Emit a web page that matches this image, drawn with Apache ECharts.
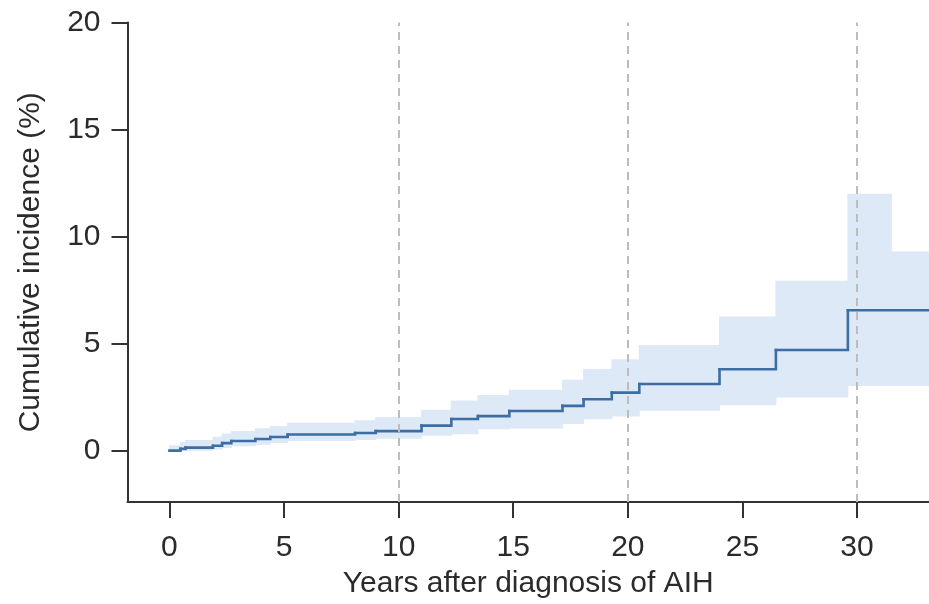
<!DOCTYPE html>
<html>
<head>
<meta charset="utf-8">
<script src="https://cdn.jsdelivr.net/npm/echarts@6/dist/echarts.min.js"></script>
<style>
  html, body { margin: 0; padding: 0; background: #fff; }
  #chart { width: 929px; height: 604px; }
</style>
</head>
<body>
<div id="chart"></div>
<script>
// Cumulative incidence estimate (step function), years after diagnosis
const years = [0, 0.48, 0.7, 1.9, 2.3, 2.7, 3.75, 4.4, 5.16, 8.1, 9.0, 11.0, 12.3, 13.46, 14.83, 17.15, 18.07, 19.3, 20.5, 24.0, 26.46, 29.6, 33.14];
const incidence = [0, 0.08, 0.14, 0.23, 0.35, 0.45, 0.54, 0.64, 0.75, 0.82, 0.91, 1.17, 1.48, 1.61, 1.85, 2.09, 2.4, 2.71, 3.11, 3.8, 4.7, 6.56, 6.56];

// 95% confidence band: interval starts, with the bounds holding until the next start
const bandYears = [0, 0.48, 0.7, 1.9, 2.3, 2.7, 3.75, 4.4, 5.16, 8.1, 9.0, 11.0, 12.3, 13.46, 14.83, 17.15, 18.07, 19.3, 20.5, 24.0, 26.46, 29.6, 31.5, 33.14];
const lowerCI = [0, 0, 0, 0.05, 0.12, 0.2, 0.28, 0.36, 0.45, 0.5, 0.55, 0.7, 0.77, 1.0, 1.03, 1.24, 1.47, 1.6, 1.86, 2.12, 2.48, 3.02, 3.02, 3.02];
const upperCI = [0.25, 0.4, 0.5, 0.65, 0.8, 0.92, 1.05, 1.15, 1.3, 1.42, 1.57, 1.91, 2.34, 2.6, 2.84, 3.31, 3.81, 4.27, 4.94, 6.27, 7.94, 12.0, 9.3, 9.3];

const xTicks = [0, 5, 10, 15, 20, 25, 30];
const yTicks = [0, 5, 10, 15, 20];
const refYears = [10, 20, 30];

const FONT = 'Liberation Sans, Arial, sans-serif';
const TEXT = '#2b2b2b';
const AXIS = '#333333';
const LINE = '#3c6ea3';
const BAND = '#dde9f6';

const chart = echarts.init(document.getElementById('chart'), null, { renderer: 'canvas' });

// one band segment per interval: [start, end, lower, upper]
const bandSegments = [];
for (let i = 0; i < bandYears.length - 1; i++) {
  bandSegments.push([bandYears[i], bandYears[i + 1], lowerCI[i], upperCI[i]]);
}
// one curve step per interval: [start, end, value, next value]
const curveSteps = [];
for (let i = 0; i < years.length - 1; i++) {
  curveSteps.push([years[i], years[i + 1], incidence[i], incidence[i + 1]]);
}

chart.setOption({
  animation: false,
  backgroundColor: '#ffffff',
  grid: { left: 127.5, right: 0, top: 22.5, bottom: 101, containLabel: false },
  xAxis: {
    type: 'value',
    min: -1.83,
    max: 33.14,
    name: 'Years after diagnosis of AIH',
    nameLocation: 'middle',
    nameGap: 67,
    nameTextStyle: { fontFamily: FONT, fontSize: 30, color: TEXT },
    axisLine: { show: true, onZero: false, lineStyle: { color: AXIS, width: 2 } },
    axisTick: { show: true, length: 16, lineStyle: { color: AXIS, width: 2 }, customValues: xTicks },
    axisLabel: { fontFamily: FONT, fontSize: 30, color: TEXT, margin: 31, customValues: xTicks },
    splitLine: { show: false }
  },
  yAxis: {
    type: 'value',
    min: -2.4,
    max: 20,
    name: 'Cumulative incidence (%)',
    nameLocation: 'middle',
    nameGap: 82,
    nameTextStyle: { fontFamily: FONT, fontSize: 30, color: TEXT },
    axisLine: { show: true, onZero: false, lineStyle: { color: AXIS, width: 2 } },
    axisTick: { show: true, length: 16, lineStyle: { color: AXIS, width: 2 }, customValues: yTicks },
    axisLabel: { fontFamily: FONT, fontSize: 30, color: TEXT, margin: 27, customValues: yTicks },
    splitLine: { show: false }
  },
  series: [
    {
      name: 'band',
      type: 'custom',
      data: bandSegments,
      encode: { x: [0, 1], y: [2, 3] },
      clip: true,
      silent: true,
      z: 1,
      renderItem: function (params, api) {
        const p0 = api.coord([api.value(0), api.value(3)]);
        const p1 = api.coord([api.value(1), api.value(2)]);
        const rect = echarts.graphic.clipRectByRect(
          { x: p0[0] - 0.5, y: p0[1], width: p1[0] - p0[0] + 1, height: p1[1] - p0[1] },
          params.coordSys
        );
        return rect && { type: 'rect', shape: rect, style: { fill: BAND } };
      }
    },
    {
      name: 'reference',
      type: 'line',
      data: [],
      z: 2,
      markLine: {
        silent: true,
        symbol: 'none',
        label: { show: false },
        lineStyle: { color: '#bdbdbd', type: [8, 6], width: 2 },
        data: refYears.map(v => ({ xAxis: v }))
      }
    },
    {
      name: 'incidence',
      type: 'custom',
      data: curveSteps,
      encode: { x: [0, 1], y: [2, 3] },
      clip: true,
      silent: true,
      z: 3,
      renderItem: function (params, api) {
        const a = api.coord([api.value(0), api.value(2)]);
        const b = api.coord([api.value(1), api.value(2)]);
        const c = api.coord([api.value(1), api.value(3)]);
        return {
          type: 'polyline',
          shape: { points: [a, b, c] },
          style: { stroke: LINE, lineWidth: 2.6, fill: null, lineCap: 'square', lineJoin: 'miter' }
        };
      }
    }
  ]
});
</script>
</body>
</html>
